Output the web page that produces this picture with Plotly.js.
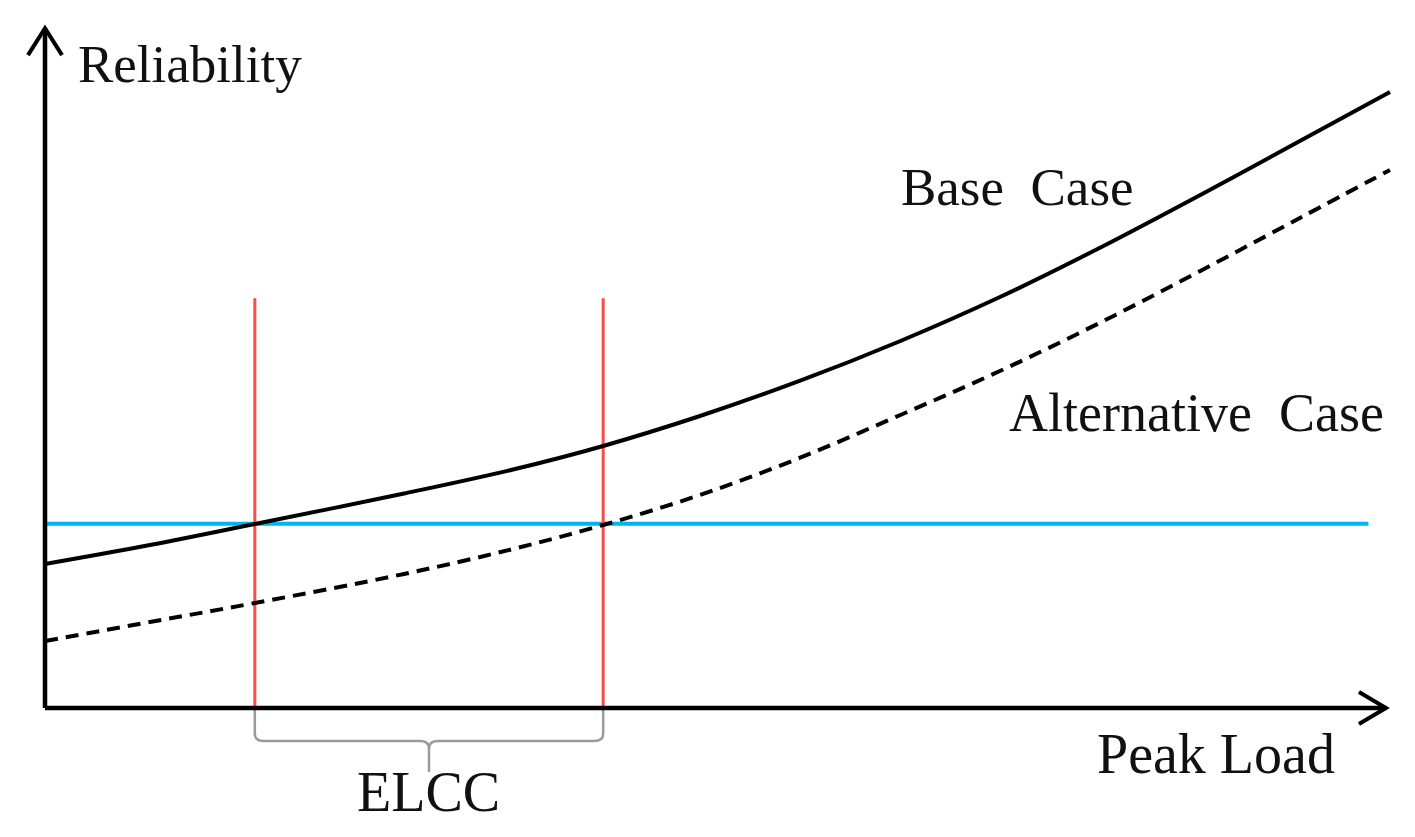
<!DOCTYPE html>
<html>
<head>
<meta charset="utf-8">
<script src="https://cdn.plot.ly/plotly-3.0.1.min.js"></script>
<style>
  html, body { margin: 0; padding: 0; background: #fff; }
  #chart { width: 1415px; height: 837px; }
</style>
</head>
<body>
<div id="chart"></div>
<script>
// ---- Data (abstract units: peak load 0..100, reliability 0..100) ----
const peakLoad = [0, 7.8, 15.6, 26.7, 34.8, 41.5, 48.7, 56.1, 63.6, 71.0, 78.4, 85.9, 93.3, 100];
const baseCase = [20.63, 23.35, 26.36, 30.73, 34.17, 37.54, 41.83, 46.85, 52.58, 58.88, 65.90, 73.50, 81.23, 88.25];
const alternativeCase = [9.60, 12.32, 15.04, 19.20, 22.78, 26.22, 30.52, 35.82, 41.98, 48.28, 55.16, 62.61, 70.20, 77.08];
const targetReliability = 26.4;
const targetSpan = [0, 98.4];
const elccLoads = [15.6, 41.5];
const elccLineTop = 58.7;
const axisEnds = { x: 99.7, y: 97.4 };
const labels = {
  yTitle: "Reliability",
  xTitle: "Peak Load",
  base: "Base\u00a0\u00a0Case",
  alt: "Alternative\u00a0\u00a0Case",
  elcc: "ELCC"
};

const font = "'Liberation Serif', 'Times New Roman', serif";
const txtColor = "#111";

const traces = [
  { x: targetSpan, y: [targetReliability, targetReliability], mode: "lines",
    line: { color: "#00b4f0", width: 4 }, hoverinfo: "skip" },
  { x: [elccLoads[0], elccLoads[0]], y: [0, elccLineTop], mode: "lines",
    line: { color: "#ff4a4a", width: 3 }, hoverinfo: "skip" },
  { x: [elccLoads[1], elccLoads[1]], y: [0, elccLineTop], mode: "lines",
    line: { color: "#ff4a4a", width: 3 }, hoverinfo: "skip" },
  { x: peakLoad, y: baseCase, mode: "lines", name: "Base Case",
    line: { color: "#000", width: 4, shape: "spline", smoothing: 1 } },
  { x: peakLoad, y: alternativeCase, mode: "lines", name: "Alternative Case",
    line: { color: "#000", width: 4, shape: "spline", smoothing: 1, dash: "13px,8px" } }
];

const mid = (elccLoads[0] + elccLoads[1]) / 2;
const r = 0.7;
const bracketPath =
  `M ${elccLoads[0]},0 L ${elccLoads[0]},-26 Q ${elccLoads[0]},-33 ${elccLoads[0] + r},-33 ` +
  `L ${mid - r},-33 Q ${mid},-33 ${mid},-40 L ${mid},-64 ` +
  `M ${mid},-40 Q ${mid},-33 ${mid + r},-33 L ${elccLoads[1] - r},-33 ` +
  `Q ${elccLoads[1]},-33 ${elccLoads[1]},-26 L ${elccLoads[1]},0`;

const shapes = [
  { type: "path", xref: "x", yref: "y", ysizemode: "pixel", yanchor: 0,
    path: bracketPath, line: { color: "#9a9a9a", width: 2.5 }, layer: "below" },
  { type: "line", xref: "x", yref: "y", x0: 0, y0: 0, x1: 0, y1: axisEnds.y,
    line: { color: "#000", width: 4.5 } },
  { type: "line", xref: "x", yref: "y", x0: 0, y0: 0, x1: axisEnds.x, y1: 0,
    line: { color: "#000", width: 4.5 } },
  { type: "path", xref: "x", yref: "y", xsizemode: "pixel", ysizemode: "pixel",
    xanchor: 0, yanchor: axisEnds.y, path: "M -17,-27 L 0,0 L 17,-27",
    line: { color: "#000", width: 4 } },
  { type: "path", xref: "x", yref: "y", xsizemode: "pixel", ysizemode: "pixel",
    xanchor: axisEnds.x, yanchor: 0, path: "M -27,16 L 0,0 L -27,-16",
    line: { color: "#000", width: 4 } }
];

const ann = (text, x, y, size) => ({
  text, x, y, xref: "x", yref: "y", showarrow: false,
  xanchor: "center", yanchor: "middle",
  font: { family: font, size: size, color: txtColor }
});

const annotations = [
  ann(labels.yTitle, 10.8, 92.3, 53),
  ann(labels.base, 72.3, 74.7, 53),
  ann(labels.alt, 85.65, 42.3, 54),
  ann(labels.xTitle, 87.1, -6.6, 56),
  ann(labels.elcc, 28.5, -12.0, 56)
];

const layout = {
  width: 1415, height: 837,
  margin: { l: 0, r: 0, t: 0, b: 0 },
  paper_bgcolor: "#fff", plot_bgcolor: "#fff",
  showlegend: false,
  xaxis: { range: [-3.346, 101.86], visible: false, fixedrange: true },
  yaxis: { range: [-18.48, 101.43], visible: false, fixedrange: true },
  shapes, annotations
};

Plotly.newPlot("chart", traces, layout, { displayModeBar: false, staticPlot: true });
</script>
</body>
</html>
